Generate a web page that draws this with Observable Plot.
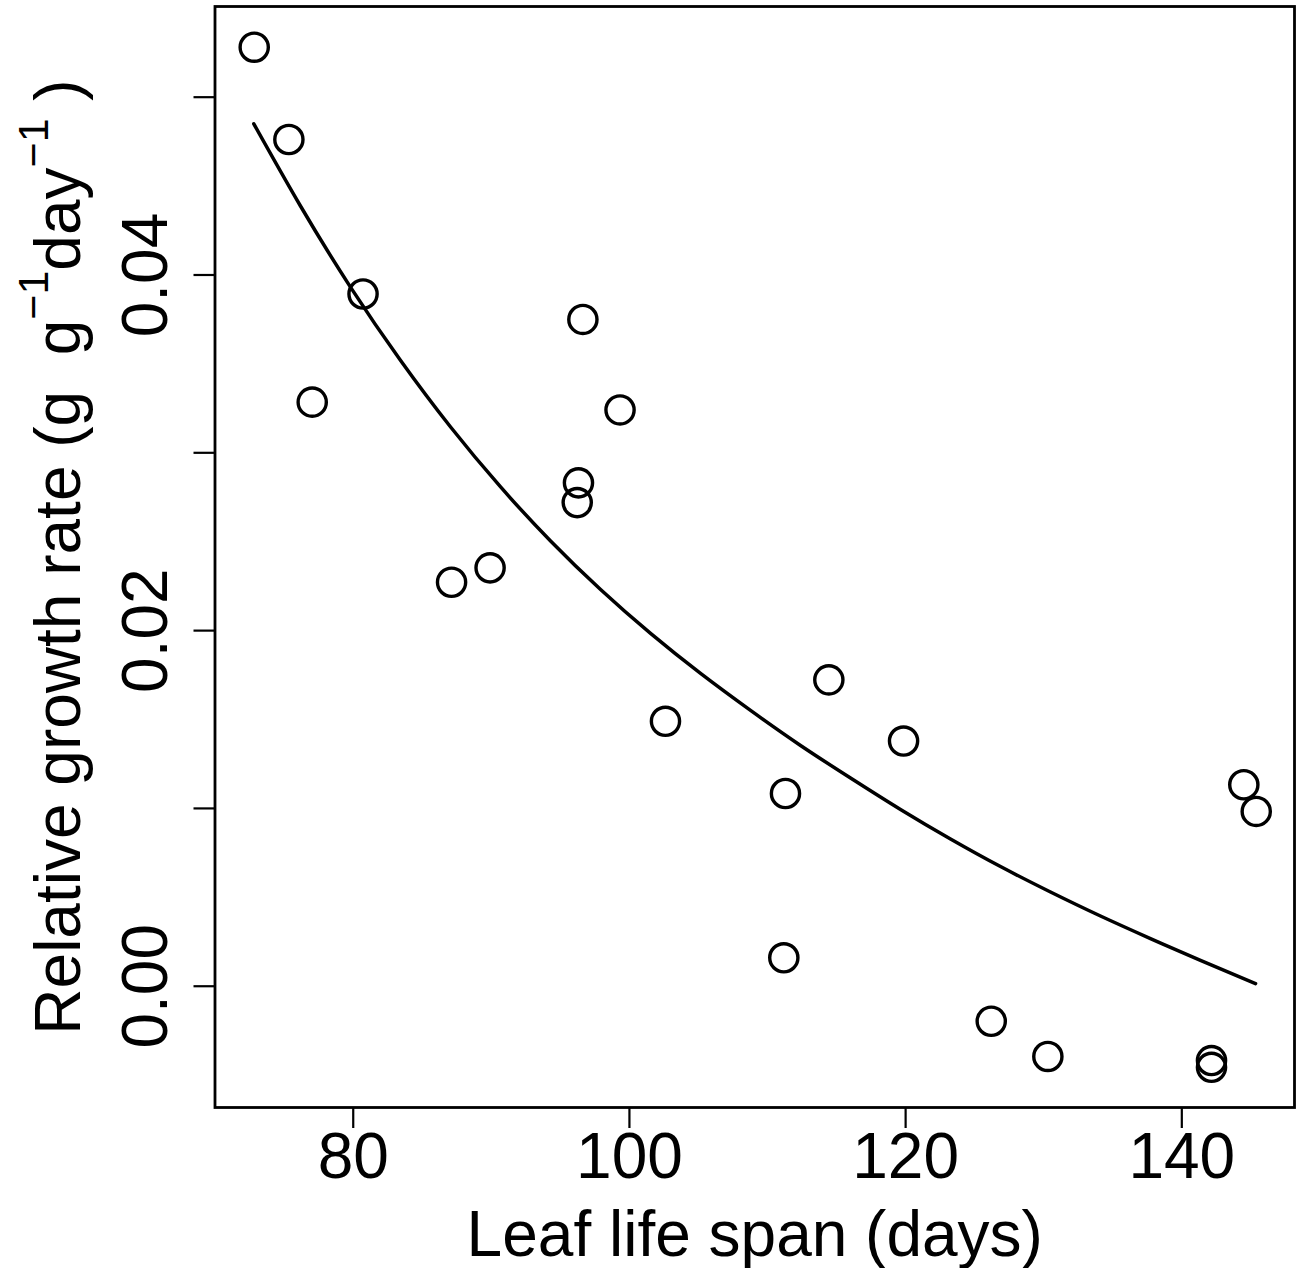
<!DOCTYPE html>
<html>
<head>
<meta charset="utf-8">
<script src="https://cdn.jsdelivr.net/npm/d3@7"></script>
<script src="https://cdn.jsdelivr.net/npm/@observablehq/plot@0.6"></script>
<style>
  html, body { margin: 0; padding: 0; background: #ffffff; }
  svg { display: block; }
</style>
</head>
<body>
<div id="chart"></div>
<script>
// Observed points: leaf life span (days) vs relative growth rate
const lifeSpan = [72.83, 75.34, 77.03, 80.71, 87.12, 89.91, 96.31, 96.22, 96.63, 99.32,
                  102.61, 111.30, 111.18, 114.44, 119.85, 126.20, 130.30, 142.15, 142.15, 144.49, 145.39];
const growthRate = [0.05281, 0.04762, 0.03285, 0.03893, 0.02272, 0.02353, 0.02831, 0.02720, 0.03750, 0.03241,
                    0.01490, 0.01084, 0.00160, 0.01723, 0.01379, -0.00197, -0.00395, -0.00418, -0.00456, 0.01133, 0.00983];

// Fitted curve
const curveX = [72.80, 76.18, 79.80, 83.43, 87.05, 90.67, 94.29, 97.91, 101.53, 105.15, 108.77,
                112.39, 116.01, 119.63, 123.25, 126.87, 130.49, 134.11, 137.73, 141.35, 145.34];
const curveY = [0.04850, 0.04388, 0.03932, 0.03519, 0.03145, 0.02808, 0.02504, 0.02231, 0.01984, 0.01759, 0.01551,
                0.01354, 0.01171, 0.00994, 0.00828, 0.00673, 0.00530, 0.00395, 0.00268, 0.00145, 0.00015];

// Axes
const xTicks = [80, 100, 120, 140];
const xTickLabels = ["80", "100", "120", "140"];
const yTicks = [0, 0.01, 0.02, 0.03, 0.04, 0.05];
const yLabelTicks = [0, 0.02, 0.04];
const yTickLabels = ["0.00", "0.02", "0.04"];
const xTitle = "Leaf life span (days)";
const yTitleParts = [
  {t: "Relative growth rate (g  g", sup: false},
  {t: "\u22121", sup: true},
  {t: "day", sup: false},
  {t: "\u22121", sup: true},
  {t: " )", sup: false}
];

const points = lifeSpan.map((x, i) => ({x, y: growthRate[i]}));
const curve = curveX.map((x, i) => ({x, y: curveY[i]}));
const yLabelData = yLabelTicks.map((v, i) => ({v, label: yTickLabels[i]}));
const yTitleText = yTitleParts.map(p => p.t).join("");

const FONT = "'Liberation Sans', Arial, Helvetica, sans-serif";
const marginLeft = 214.5;

const svg = Plot.plot({
  width: 1299,
  height: 1268,
  marginLeft,
  marginRight: 5,
  marginTop: 6,
  marginBottom: 161,
  style: {fontFamily: FONT, fontSize: "64px", background: "#ffffff", color: "#000000", overflow: "visible"},
  x: {domain: [69.99, 148.16]},
  y: {domain: [-0.00682, 0.0551]},
  marks: [
    Plot.axisX({
      ticks: xTicks,
      tickSize: 21,
      tickPadding: 4,
      strokeWidth: 2.2,
      fontSize: 64,
      tickFormat: d => xTickLabels[xTicks.indexOf(d)],
      label: null
    }),
    Plot.axisY({
      ticks: yTicks,
      tickSize: 21,
      strokeWidth: 2.2,
      tickFormat: () => "",
      label: null
    }),
    Plot.text(yLabelData, {
      y: "v",
      text: "label",
      frameAnchor: "left",
      rotate: -90,
      textAnchor: "middle",
      lineAnchor: "bottom",
      dx: -47.8,
      fontSize: 64
    }),
    Plot.text([xTitle], {
      text: d => d,
      frameAnchor: "bottom",
      textAnchor: "middle",
      lineAnchor: "bottom",
      dy: 148,
      fontSize: 64
    }),
    Plot.text([yTitleText], {
      text: d => d,
      frameAnchor: "left",
      rotate: -90,
      textAnchor: "middle",
      lineAnchor: "bottom",
      dx: 79 - marginLeft,
      fontSize: 64
    }),
    Plot.line(curve, {x: "x", y: "y", stroke: "#000000", strokeWidth: 3.5, curve: "natural"}),
    Plot.dot(points, {x: "x", y: "y", r: 14.1, stroke: "#000000", strokeWidth: 3.4, fill: "none"}),
    Plot.frame({stroke: "#000000", strokeWidth: 2.8})
  ]
});

// Rebuild the y title with superscripts
d3.select(svg).selectAll("text").filter(function() { return this.textContent === yTitleText; })
  .each(function() {
    const t = d3.select(this);
    t.text(null).style("white-space", "pre");
    const RAISE = 32;
    let raised = false;
    yTitleParts.forEach(p => {
      const ts = t.append("tspan").text(p.t);
      if (p.sup) {
        ts.attr("font-size", 43);
        if (!raised) { ts.attr("dy", -RAISE); raised = true; }
      } else if (raised) {
        ts.attr("dy", RAISE); raised = false;
      }
    });
  });

document.getElementById("chart").appendChild(svg);
</script>
</body>
</html>
